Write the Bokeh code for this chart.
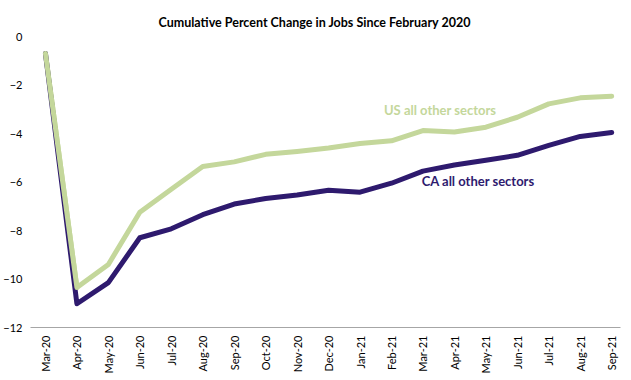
from bokeh.plotting import figure
from bokeh.models import Range1d, FixedTicker, Label
from bokeh.embed import file_html
from bokeh.resources import INLINE

months = ["Mar-20", "Apr-20", "May-20", "Jun-20", "Jul-20", "Aug-20", "Sep-20",
          "Oct-20", "Nov-20", "Dec-20", "Jan-21", "Feb-21", "Mar-21", "Apr-21",
          "May-21", "Jun-21", "Jul-21", "Aug-21", "Sep-21"]
us_other = [-0.7, -10.35, -9.4, -7.25, -6.3, -5.36, -5.17, -4.86, -4.74, -4.6,
            -4.41, -4.3, -3.88, -3.94, -3.74, -3.33, -2.78, -2.53, -2.46]
ca_other = [-0.7, -11.02, -10.15, -8.3, -7.93, -7.35, -6.91, -6.68, -6.54, -6.34,
            -6.42, -6.05, -5.55, -5.3, -5.1, -4.9, -4.49, -4.12, -3.96]
y_ticks = [0, -2, -4, -6, -8, -10, -12]
title_text = "Cumulative Percent Change in Jobs Since February 2020"

US_COLOR = "#C4D79B"
CA_COLOR = "#2E1A6E"
FONT = "Lato"

xs = list(range(len(months)))

p = figure(width=622, height=376, output_backend="svg", toolbar_location=None,
           x_range=Range1d(-0.475, 18.28), y_range=Range1d(-12, 0),
           min_border_left=25, min_border_right=2, min_border_bottom=0, min_border_top=36)
p.outline_line_color = None
p.xgrid.grid_line_color = None
p.ygrid.grid_line_color = None

p.title.text = title_text
p.title.align = "left"
p.title.offset = 128
p.title.vertical_align = "top"
p.title.standoff = 10
p.title.text_font = FONT
p.title.text_font_size = "12.5px"
p.title.text_font_style = "bold"
p.title.text_color = "#000000"

p.line(xs, us_other, line_color=US_COLOR, line_width=5, line_join="round", line_cap="round")
p.line(xs, ca_other, line_color=CA_COLOR, line_width=5, line_join="round", line_cap="round")
p.line(xs[:2], us_other[:2], line_color=US_COLOR, line_width=5, line_cap="round")

xa = p.xaxis[0]
xa.ticker = FixedTicker(ticks=xs)
xa.major_label_overrides = {i: m for i, m in enumerate(months)}
xa.major_label_orientation = 1.5708
xa.major_tick_line_color = None
xa.major_tick_out = 0
xa.major_tick_in = 0
xa.minor_tick_line_color = None
xa.axis_line_color = "#A6A6A6"
xa.major_label_standoff = 8
xa.major_label_text_font = FONT
xa.major_label_text_font_size = "11px"
xa.major_label_text_color = "#000000"

ya = p.yaxis[0]
ya.ticker = FixedTicker(ticks=y_ticks)
ya.axis_line_color = None
ya.major_tick_line_color = None
ya.major_tick_out = 0
ya.major_tick_in = 0
ya.minor_tick_line_color = None
ya.major_label_standoff = 8
ya.major_label_text_font = FONT
ya.major_label_text_font_size = "11px"
ya.major_label_text_color = "#000000"

p.add_layout(Label(x=10.76, y=-3.04, text="US all other sectors", text_color=US_COLOR,
                   text_font=FONT, text_font_size="13px", text_font_style="bold",
                   text_baseline="middle"))
p.add_layout(Label(x=11.96, y=-5.96, text="CA all other sectors", text_color=CA_COLOR,
                   text_font=FONT, text_font_size="13px", text_font_style="bold",
                   text_baseline="middle"))

open("out.html", "w").write(file_html(p, INLINE))
